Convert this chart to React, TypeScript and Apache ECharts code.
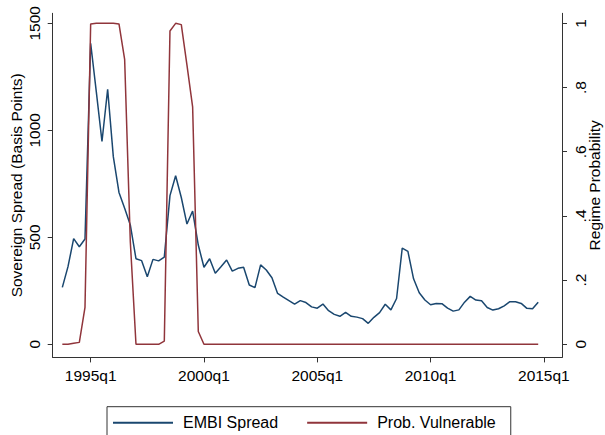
import React, { useEffect, useRef } from "react";
import * as echarts from "echarts";

// Quarterly index (Stata %tq convention: 1960q1 = 0). First observation 1993q4.
const START_QUARTER = 135;

const embiSpread: number[] = [
  266, 363, 494, 456, 492, 1407, 1180, 948, 1192, 877,
  710, 636, 558, 400, 391, 316, 397, 390, 408, 695,
  788, 686, 562, 623, 464, 360, 400, 332, 362, 394,
  342, 355, 360, 277, 265, 371, 347, 311, 238, 220,
  204, 188, 204, 195, 175, 169, 188, 157, 140, 131,
  149, 131, 127, 120, 98, 126, 148, 187, 161, 214,
  450, 434, 306, 241, 207, 185, 191, 190, 169, 155,
  161, 197, 224, 207, 204, 172, 160, 166, 180, 199,
  199, 191, 168, 166, 197,
];

const probVulnerable: number[] = [
  0, 0, 0.003, 0.006, 0.115, 0.998, 1, 1, 1, 1,
  0.998, 0.888, 0.32, 0, 0, 0, 0, 0, 0.01, 0.976,
  1, 0.996, 0.87, 0.74, 0.04, 0, 0, 0, 0, 0,
  0, 0, 0, 0, 0, 0, 0, 0, 0, 0,
  0, 0, 0, 0, 0, 0, 0, 0, 0, 0,
  0, 0, 0, 0, 0, 0, 0, 0, 0, 0,
  0, 0, 0, 0, 0, 0, 0, 0, 0, 0,
  0, 0, 0, 0, 0, 0, 0, 0, 0, 0,
  0, 0, 0, 0, 0,
];

const xTicks: number[] = [140, 160, 180, 200, 220];
const spreadTicks: number[] = [0, 500, 1000, 1500];
const probTicks: number[] = [0, 0.2, 0.4, 0.6, 0.8, 1];

const quarterLabel = (q: number) =>
  `${1960 + Math.floor(q / 4)}q${(q % 4) + 1}`;
const probLabel = (v: number) => {
  const r = Math.round(v * 10) / 10;
  if (r === 0) return "0";
  if (r === 1) return "1";
  return "." + String(Math.round(r * 10));
};

const FONT = "'Liberation Sans', Arial, Helvetica, sans-serif";
const AXIS_COLOR = "#333";
const BLUE = "#1a476f";
const MAROON = "#90353b";

export default function App() {
  const ref = useRef<HTMLDivElement>(null);

  useEffect(() => {
    if (!ref.current) return;
    const chart = echarts.init(ref.current, undefined, { renderer: "svg" });

    const spreadData = embiSpread.map((v, i) => [START_QUARTER + i, v]);
    const probData = probVulnerable.map((v, i) => [START_QUARTER + i, v]);

    const axisLine = { show: true, lineStyle: { color: AXIS_COLOR, width: 1 } };
    const labelText = { color: "#000", fontSize: 15.5, fontFamily: FONT };

    chart.setOption({
      animation: false,
      backgroundColor: "#fff",
      textStyle: { fontFamily: FONT },
      grid: {
        left: 52.7,
        right: 43,
        top: 13.3,
        bottom: 77.6,
        containLabel: false,
        outerBoundsMode: "none",
      },
      legend: {
        left: 107,
        top: 406.7,
        orient: "horizontal",
        borderColor: AXIS_COLOR,
        borderWidth: 1,
        borderRadius: 0,
        padding: [8, 15, 14, 6],
        itemGap: 29,
        itemWidth: 60,
        itemHeight: 2,
        icon: "rect",
        textStyle: { color: "#000", fontSize: 16, fontFamily: FONT, padding: [0, 0, 0, 5] },
        data: ["EMBI Spread", "Prob. Vulnerable"],
      },
      xAxis: {
        type: "value",
        min: 133.3,
        max: 223.2,
        axisLine: { ...axisLine, onZero: false },
        axisTick: { show: true, length: 5, customValues: xTicks, lineStyle: { color: AXIS_COLOR } },
        axisLabel: {
          ...labelText,
          customValues: xTicks,
          margin: 10,
          formatter: (v: number) => quarterLabel(Math.round(v)),
        },
        splitLine: { show: false },
      },
      yAxis: [
        {
          type: "value",
          position: "left",
          min: -61.2,
          max: 1547,
          axisLine,
          axisTick: { show: true, length: 5, customValues: spreadTicks, lineStyle: { color: AXIS_COLOR } },
          axisLabel: {
            ...labelText,
            customValues: spreadTicks,
            rotate: 90,
            margin: 10,
            formatter: (v: number) => String(Math.round(v)),
          },
          splitLine: { show: false },
          name: "Sovereign Spread (Basis Points)",
          nameLocation: "middle",
          nameRotate: 90,
          nameGap: 28,
          nameMoveOverlap: false,
          nameTextStyle: { ...labelText },
        },
        {
          type: "value",
          position: "right",
          min: -0.0408,
          max: 1.0313,
          axisLine,
          axisTick: { show: true, length: 5, customValues: probTicks, lineStyle: { color: AXIS_COLOR } },
          axisLabel: {
            ...labelText,
            customValues: probTicks,
            rotate: 90,
            margin: 10,
            formatter: probLabel,
          },
          splitLine: { show: false },
          name: "Regime Probability",
          nameLocation: "middle",
          nameRotate: 90,
          nameGap: 24,
          nameMoveOverlap: false,
          nameTextStyle: { ...labelText },
        },
      ],
      series: [
        {
          name: "EMBI Spread",
          type: "line",
          yAxisIndex: 0,
          data: spreadData,
          showSymbol: false,
          color: BLUE,
          lineStyle: { color: BLUE, width: 1.5 },
        },
        {
          name: "Prob. Vulnerable",
          type: "line",
          yAxisIndex: 1,
          data: probData,
          showSymbol: false,
          color: MAROON,
          lineStyle: { color: MAROON, width: 1.5 },
        },
      ],
    });

    return () => chart.dispose();
  }, []);

  return (
    <div
      ref={ref}
      style={{ position: "fixed", left: 0, top: 0, width: 605, height: 435, background: "#fff" }}
    />
  );
}
